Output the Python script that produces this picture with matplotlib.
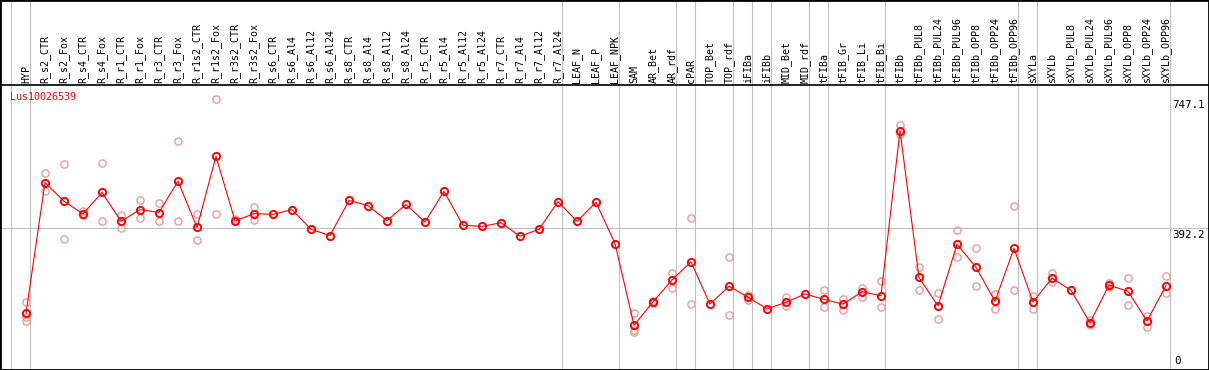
import matplotlib
matplotlib.use("Agg")
import matplotlib.pyplot as plt
from matplotlib.patches import Rectangle
from matplotlib.transforms import blended_transform_factory

# Sample names (x axis)
samples = [
    "HYP",
    "R_s2_CTR", "R_s2_Fox", "R_s4_CTR", "R_s4_Fox", "R_r1_CTR", "R_r1_Fox",
    "R_r3_CTR", "R_r3_Fox", "R_r1s2_CTR", "R_r1s2_Fox", "R_r3s2_CTR", "R_r3s2_Fox",
    "R_s6_CTR", "R_s6_Al4", "R_s6_Al12", "R_s6_Al24", "R_s8_CTR", "R_s8_Al4",
    "R_s8_Al12", "R_s8_Al24", "R_r5_CTR", "R_r5_Al4", "R_r5_Al12", "R_r5_Al24",
    "R_r7_CTR", "R_r7_Al4", "R_r7_Al12", "R_r7_Al24",
    "LEAF_N", "LEAF_P", "LEAF_NPK",
    "SAM", "AR_Bet", "AR_rdf",
    "cPAR",
    "TOP_Bet", "TOP_rdf",
    "iFIBa",
    "iFIBb",
    "MID_Bet", "MID_rdf",
    "tFIBa",
    "tFIB_Gr", "tFIB_Li", "tFIB_Bi",
    "tFIBb", "tFIBb_PUL8", "tFIBb_PUL24", "tFIBb_PUL96", "tFIBb_OPP8",
    "tFIBb_OPP24", "tFIBb_OPP96",
    "sXYLa",
    "sXYLb", "sXYLb_PUL8", "sXYLb_PUL24", "sXYLb_PUL96", "sXYLb_OPP8",
    "sXYLb_OPP24", "sXYLb_OPP96",
]

# number of samples in each tissue group (grey separators between groups)
group_sizes = [1, 28, 3, 3, 1, 2, 1, 1, 2, 1, 3, 7, 1, 7]

# mean expression per sample
means = [
    159, 517, 466, 431, 490, 411, 443, 435, 521, 394, 589, 412, 432,
    430, 443, 389, 372, 468, 454, 413, 457, 409, 493, 400, 397, 407, 370, 389, 465,
    411, 463, 350,
    126, 190, 250,
    300,
    184, 233,
    203,
    171,
    189, 212,
    197,
    184, 218, 207,
    659, 257, 179, 348, 285, 192, 337,
    190,
    255, 222, 133, 236, 219, 138, 235,
]

# individual replicates (empty where only the mean is shown)
replicates = [
    [190, 138, 150],
    [542, 493], [569, 362], [440, 428], [572, 411], [428, 393], [469, 419],
    [460, 411], [630, 411], [430, 361], [747.1, 432], [417, 411], [451, 415],
    [], [], [], [], [], [], [], [], [], [], [], [], [], [], [], [],
    [], [], [],
    [159, 113, 108], [192, 187], [269, 229],
    [420, 184],
    [], [313, 153],
    [209, 195],
    [],
    [203, 179], [],
    [224, 175],
    [197, 167], [228, 203], [247, 175],
    [676, 649], [287, 224], [214, 143], [387, 313], [337, 235], [212, 170], [452, 222],
    [206, 170],
    [268, 244], [], [140, 128], [241, 232], [255, 181], [151, 122], [260, 214],
]

gene = "Lus10026539"
ytick_vals = [747.1, 392.2]
ymax = 784.4

W, H = 1209, 370
fig = plt.figure(figsize=(W / 100, H / 100), dpi=100)

top_px = 85
bot_px = 371.3
ax = fig.add_axes([0, (H - bot_px) / H, 1, (bot_px - top_px) / H])
x0, dx = 26, 19
ax.set_xlim((0 - x0) / dx, (W - x0) / dx)
ax.set_ylim(0, ymax)
ax.axis("off")

xs = list(range(len(samples)))
grey = "#c0c0c0"
full = blended_transform_factory(ax.transData, fig.transFigure)

# group separators
seps = [-1]
acc = -1
for g in group_sizes:
    acc += g
    seps.append(acc)
for s in seps:
    ax.plot([s + 0.23, s + 0.23], [0, 1], color=grey, lw=0.8,
            transform=full, clip_on=False, zorder=1)

# mid horizontal line
ax.axhline(ytick_vals[1], color=grey, lw=0.8, zorder=1)

# replicates
for i, reps in enumerate(replicates):
    if reps:
        ax.plot([i] * len(reps), reps, "o", ms=5.2, mfc="none",
                mec="#ee9a9a", mew=1.0, zorder=2, clip_on=False)

# mean line
ax.plot(xs, means, "-", color="red", lw=0.8, zorder=3)
ax.plot(xs, means, "o", ms=5.2, mfc="none", mec="red", mew=1.4, zorder=4)

# sample labels
ylab = (H - 83) / H
for i, name in enumerate(samples):
    ax.text(i, ylab, name, rotation=90, ha="center", va="bottom",
            family="DejaVu Sans Mono", fontsize=7.2, transform=full)

# gene name
fig.text(10 / W, (H - 92) / H, gene, color="red", ha="left", va="top",
         family="DejaVu Sans Mono", fontsize=7.2)

# value labels on the right
xl = 1172 / W
tr = blended_transform_factory(fig.transFigure, ax.transData)
for v in ytick_vals:
    ax.text(xl, v - 4, f"{v:.1f}", ha="left", va="top", transform=tr,
            family="DejaVu Sans Mono", fontsize=7.8)
fig.text(xl + 2 / W, 4 / H, "0", ha="left", va="bottom",
         family="DejaVu Sans Mono", fontsize=7.8)

# black frame and header line
fig.patches.append(Rectangle((0, 0), 1, 1, transform=fig.transFigure,
                             fill=False, ec="black", lw=2))
fig.lines.append(plt.Line2D([0, 1], [(H - top_px) / H] * 2,
                            transform=fig.transFigure, color="black", lw=1.2))

fig.savefig("out.png", dpi=100)
